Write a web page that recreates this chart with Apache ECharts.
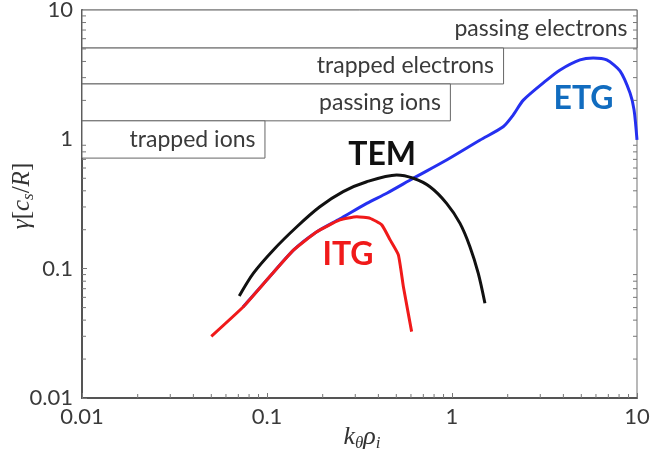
<!DOCTYPE html>
<html>
<head>
<meta charset="utf-8">
<script src="https://cdn.jsdelivr.net/npm/echarts@6/dist/echarts.min.js"></script>
<style>
html,body{margin:0;padding:0;background:#fff;}
#chart{width:651px;height:457px;}
</style>
</head>
<body>
<div id="chart"></div>
<script>
// ---- Data ----
const itgX = [0.050, 0.0745, 0.100, 0.139, 0.186, 0.248, 0.306, 0.361, 0.417, 0.463, 0.513, 0.546, 0.605];
const itgY = [0.030, 0.0508, 0.082, 0.139, 0.193, 0.238, 0.252, 0.245, 0.218, 0.167, 0.128, 0.0726, 0.0326];

const temX = [0.0708, 0.0843, 0.108, 0.145, 0.193, 0.258, 0.346, 0.502, 0.618, 0.760, 0.935, 1.105, 1.25, 1.387, 1.507];
const temY = [0.0615, 0.092, 0.139, 0.211, 0.301, 0.394, 0.470, 0.530, 0.500, 0.430, 0.320, 0.224, 0.148, 0.092, 0.054];

const etgX = [0.0742, 0.100, 0.139, 0.186, 0.248, 0.346, 0.444, 0.618, 0.935, 1.42, 1.89, 2.14, 2.43, 3.25, 3.84, 4.92, 5.80, 6.86, 8.09, 9.17, 9.64, 10.0];
const etgY = [0.0506, 0.082, 0.139, 0.193, 0.243, 0.320, 0.383, 0.500, 0.692, 0.988, 1.25, 1.54, 2.01, 2.87, 3.44, 4.11, 4.25, 4.11, 3.38, 2.28, 1.69, 0.99];

const boxNames = ['passing electrons', 'trapped electrons', 'passing ions', 'trapped ions'];
const boxXmin = [0.01, 0.01, 0.01, 0.01];
const boxXmax = [10, 1.9, 0.98, 0.0975];
const boxYlow = [5.08, 2.68, 1.39, 0.716];
const boxYhigh = [10, 5.08, 2.68, 1.39];

const curveLabels = ['TEM', 'ITG', 'ETG'];
const curveLabelX = [0.419, 0.274, 5.14];
const curveLabelY = [0.757, 0.128, 2.07];

const axisMin = 0.01;
const axisMax = 10;
const xMinorTicks = [0.02,0.03,0.04,0.05,0.06,0.07,0.08,0.09, 0.2,0.3,0.4,0.5,0.6,0.7,0.8,0.9, 2,3,4,5,6,7,8,9];
const yMinorTicks = [0.02,0.03,0.04,0.05,0.06,0.07,0.08,0.09, 0.2,0.3,0.4,0.5,0.6,0.7,0.8,0.9, 2,3,4,5,6,7,8,9];

// ---- Build ----
const zip = (xs, ys) => xs.map((x, i) => [x, ys[i]]);

const colBlack = '#111111', colRed = '#f01a1a', colBlue = '#2530f0', colEtgText = '#116cbf';
const labelColors = [colBlack, colRed, colEtgText];

const tickStyle = { stroke: '#777', lineWidth: 1 };

function tickSeries(data, side) {
  return {
    type: 'custom',
    silent: true,
    z: 5,
    clip: false,
    data: data,
    renderItem: function (params, api) {
      const p = api.coord([api.value(0), api.value(1)]);
      let x2 = p[0], y2 = p[1];
      if (side === 'bottom') y2 -= 4;
      if (side === 'left') x2 += 4;
      if (side === 'right') x2 -= 4;
      return { type: 'line', shape: { x1: p[0], y1: p[1], x2: x2, y2: y2 }, style: tickStyle };
    }
  };
}

const chart = echarts.init(document.getElementById('chart'), null, { renderer: 'canvas' });

const option = {
  animation: false,
  backgroundColor: '#fff',
  grid: { left: 82, right: 14, top: 10, bottom: 59, show: true, borderColor: '#8a8a8a', borderWidth: 1.2, containLabel: false, outerBoundsMode: 'none' },
  xAxis: {
    type: 'log', logBase: 10, min: axisMin, max: axisMax,
    axisLine: { show: true, lineStyle: { color: '#555', width: 2 } },
    axisTick: { show: true, inside: true, length: 5, lineStyle: { color: '#777' } },
    splitLine: { show: false },
    axisLabel: { fontFamily: 'Lato', fontSize: 22, color: '#3a3a3a', margin: 8 },
    name: '{i|k}{s|θ}{i|ρ}{s|i}',
    nameLocation: 'middle',
    nameGap: 24,
    nameMoveOverlap: false,
    nameTextStyle: {
      padding: [0, 0, 0, 5],
      rich: {
        i: { fontFamily: 'Liberation Serif', fontStyle: 'italic', fontSize: 26, color: '#333', lineHeight: 30 },
        s: { fontFamily: 'Liberation Serif', fontStyle: 'italic', fontSize: 17, color: '#333', lineHeight: 17, verticalAlign: 'bottom' }
      }
    }
  },
  yAxis: {
    type: 'log', logBase: 10, min: axisMin, max: axisMax,
    axisLine: { show: true, lineStyle: { color: '#555', width: 2 } },
    axisTick: { show: true, inside: true, length: 5, lineStyle: { color: '#777' } },
    splitLine: { show: false },
    axisLabel: { fontFamily: 'Lato', fontSize: 22, color: '#3a3a3a', margin: 9 },
    name: '{i|γ}{n|[}{i|c}{s|s}{n|/}{i|R}{n|]}',
    nameLocation: 'middle',
    nameGap: 45,
    nameMoveOverlap: false,
    nameTextStyle: {
      padding: [0, 0, 0, 16],
      rich: {
        i: { fontFamily: 'Liberation Serif', fontStyle: 'italic', fontSize: 25, color: '#333', lineHeight: 30 },
        n: { fontFamily: 'Liberation Serif', fontSize: 25, color: '#333', lineHeight: 30 },
        s: { fontFamily: 'Liberation Serif', fontStyle: 'italic', fontSize: 17, color: '#333', lineHeight: 17, verticalAlign: 'bottom' }
      }
    }
  },
  series: [
    {
      name: 'regions', type: 'line', data: [], silent: true, z: 1,
      markArea: {
        silent: true,
        itemStyle: { color: '#fff', borderColor: '#666', borderWidth: 1 },
        label: { show: true, position: 'insideRight', distance: 10, fontFamily: 'Lato', fontSize: 23, color: '#3a3a3a' },
        data: boxNames.map((n, i) => [
          { name: n, xAxis: boxXmin[i], yAxis: boxYlow[i] },
          { xAxis: boxXmax[i], yAxis: boxYhigh[i] }
        ])
      }
    },
    {
      name: 'ETG', type: 'line', data: zip(etgX, etgY), smooth: 0.25, showSymbol: false, z: 3,
      lineStyle: { color: colBlue, width: 3 }
    },
    {
      name: 'TEM', type: 'line', data: zip(temX, temY), smooth: 0.3, showSymbol: false, z: 4,
      lineStyle: { color: colBlack, width: 3 }
    },
    {
      name: 'ITG', type: 'line', data: zip(itgX, itgY), smooth: 0.15, showSymbol: false, z: 4,
      lineStyle: { color: colRed, width: 3 }
    },
    {
      name: 'labels', type: 'scatter', symbolSize: 0, silent: true, z: 6,
      itemStyle: { opacity: 1 },
      data: curveLabels.map((t, i) => ({
        name: t, value: [curveLabelX[i], curveLabelY[i]],
        itemStyle: { opacity: 1 },
        label: { show: true, position: 'inside', formatter: t, fontFamily: 'Lato', fontWeight: 'bold', fontSize: 32,
                 color: labelColors[i], opacity: 1, textBorderWidth: 0, textBorderColor: 'transparent' }
      }))
    },
    tickSeries(xMinorTicks.map(v => [v, axisMin]), 'bottom'),
    tickSeries(yMinorTicks.map(v => [axisMin, v]), 'left'),
    tickSeries(yMinorTicks.map(v => [axisMax, v]), 'right')
  ]
};
chart.setOption(option);
</script>
</body>
</html>
